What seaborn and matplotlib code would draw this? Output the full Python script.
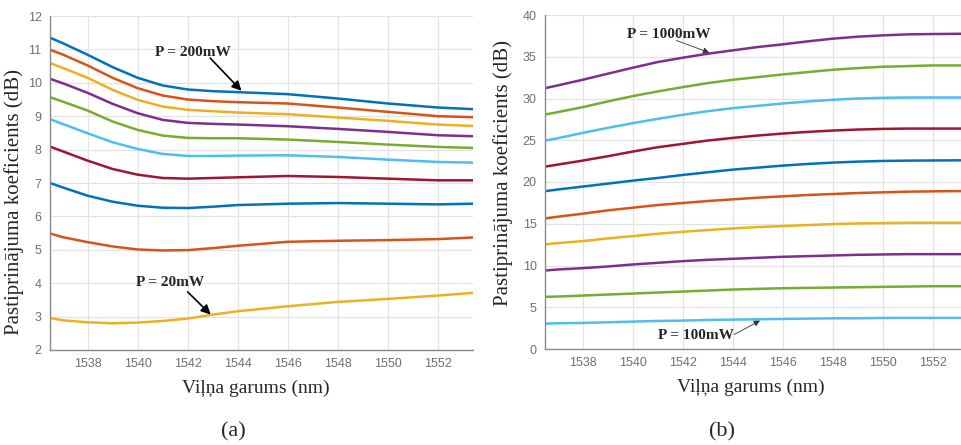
import numpy as np
import pandas as pd
import matplotlib
matplotlib.use("Agg")
import matplotlib.pyplot as plt
import seaborn as sns

# ---- (a) gain vs wavelength, pump power 20 ... 200 mW ----
wl_a = [1536.5, 1537, 1538, 1539, 1540, 1541, 1542, 1543, 1544, 1546, 1548, 1550, 1552, 1553.4]
gain_a_200 = [11.35, 11.19, 10.84, 10.47, 10.15, 9.92, 9.80, 9.75, 9.72, 9.66, 9.53, 9.38, 9.26, 9.21]
gain_a_180 = [10.99, 10.85, 10.52, 10.15, 9.84, 9.62, 9.50, 9.45, 9.42, 9.38, 9.26, 9.13, 9.00, 8.97]
gain_a_160 = [10.59, 10.45, 10.15, 9.79, 9.49, 9.29, 9.19, 9.15, 9.11, 9.06, 8.96, 8.86, 8.75, 8.71]
gain_a_140 = [10.12, 9.99, 9.70, 9.37, 9.09, 8.89, 8.80, 8.77, 8.75, 8.70, 8.62, 8.53, 8.43, 8.40]
gain_a_120 = [9.57, 9.44, 9.17, 8.84, 8.59, 8.42, 8.35, 8.34, 8.34, 8.30, 8.23, 8.15, 8.08, 8.05]
gain_a_100 = [8.91, 8.77, 8.49, 8.22, 8.02, 7.87, 7.81, 7.81, 7.82, 7.83, 7.78, 7.70, 7.63, 7.61]
gain_a_80 = [8.09, 7.95, 7.67, 7.42, 7.25, 7.15, 7.13, 7.15, 7.17, 7.21, 7.18, 7.13, 7.08, 7.08]
gain_a_60 = [7.00, 6.87, 6.62, 6.44, 6.32, 6.26, 6.25, 6.29, 6.34, 6.38, 6.40, 6.38, 6.36, 6.38]
gain_a_40 = [5.49, 5.38, 5.23, 5.10, 5.01, 4.98, 4.99, 5.05, 5.12, 5.24, 5.27, 5.29, 5.32, 5.37]
gain_a_20 = [2.96, 2.89, 2.83, 2.80, 2.82, 2.87, 2.94, 3.06, 3.16, 3.31, 3.44, 3.53, 3.63, 3.71]

# ---- (b) gain vs wavelength, pump power 100 ... 1000 mW ----
wl_b = [1536.5, 1537, 1538, 1539, 1540, 1541, 1542, 1543, 1544, 1545,
        1546, 1547, 1548, 1549, 1550, 1551, 1552, 1553.4]
gain_b_1000 = [31.24, 31.56, 32.24, 32.96, 33.68, 34.36, 34.88, 35.36, 35.76, 36.16,
               36.48, 36.84, 37.16, 37.40, 37.56, 37.68, 37.72, 37.76]
gain_b_900 = [28.08, 28.36, 28.96, 29.64, 30.28, 30.84, 31.36, 31.84, 32.24, 32.56,
              32.88, 33.16, 33.44, 33.64, 33.80, 33.88, 33.96, 33.96]
gain_b_800 = [24.96, 25.24, 25.88, 26.48, 27.04, 27.56, 28.04, 28.48, 28.84, 29.12,
              29.40, 29.64, 29.84, 30.00, 30.08, 30.12, 30.12, 30.12]
gain_b_700 = [21.84, 22.08, 22.56, 23.08, 23.64, 24.16, 24.56, 24.96, 25.28, 25.56,
              25.80, 26.00, 26.16, 26.28, 26.36, 26.40, 26.40, 26.40]
gain_b_600 = [18.90, 19.10, 19.45, 19.80, 20.16, 20.48, 20.84, 21.16, 21.48, 21.72,
              21.96, 22.16, 22.32, 22.44, 22.52, 22.56, 22.58, 22.60]
gain_b_500 = [15.64, 15.84, 16.20, 16.60, 16.92, 17.24, 17.48, 17.72, 17.92, 18.12,
              18.28, 18.44, 18.56, 18.68, 18.76, 18.84, 18.88, 18.92]
gain_b_400 = [12.52, 12.68, 12.92, 13.24, 13.52, 13.80, 14.04, 14.24, 14.44, 14.60,
              14.72, 14.84, 14.96, 15.04, 15.08, 15.12, 15.12, 15.12]
gain_b_300 = [9.40, 9.52, 9.68, 9.88, 10.12, 10.32, 10.52, 10.68, 10.80, 10.92,
              11.04, 11.12, 11.20, 11.28, 11.32, 11.36, 11.36, 11.36]
gain_b_200 = [6.24, 6.28, 6.40, 6.52, 6.64, 6.76, 6.88, 7.00, 7.12, 7.20,
              7.28, 7.32, 7.36, 7.40, 7.44, 7.48, 7.52, 7.52]
gain_b_100 = [3.04, 3.08, 3.12, 3.20, 3.28, 3.36, 3.40, 3.48, 3.52, 3.56,
              3.60, 3.64, 3.68, 3.68, 3.72, 3.72, 3.72, 3.72]

power_a = [200, 180, 160, 140, 120, 100, 80, 60, 40, 20]
series_a = [gain_a_200, gain_a_180, gain_a_160, gain_a_140, gain_a_120,
            gain_a_100, gain_a_80, gain_a_60, gain_a_40, gain_a_20]
power_b = [1000, 900, 800, 700, 600, 500, 400, 300, 200, 100]
series_b = [gain_b_1000, gain_b_900, gain_b_800, gain_b_700, gain_b_600,
            gain_b_500, gain_b_400, gain_b_300, gain_b_200, gain_b_100]

xticks = [1538, 1540, 1542, 1544, 1546, 1548, 1550, 1552]
yticks_a = list(range(2, 13))
yticks_b = list(range(0, 41, 5))

# MATLAB-style line colours
M_BLUE, M_ORANGE, M_YELLOW = "#0072BD", "#D95319", "#EDB120"
M_PURPLE, M_GREEN, M_CYAN, M_RED = "#7E2F8E", "#77AC30", "#4DBEEE", "#A2142F"
colors_a = [M_BLUE, M_ORANGE, M_YELLOW, M_PURPLE, M_GREEN, M_CYAN, M_RED, M_BLUE, M_ORANGE, M_YELLOW]
colors_b = [M_PURPLE, M_GREEN, M_CYAN, M_RED, M_BLUE, M_ORANGE, M_YELLOW, M_PURPLE, M_GREEN, M_CYAN]


def long_frame(wl, powers, series):
    rows = []
    for p, ys in zip(powers, series):
        for x, y in zip(wl, ys):
            rows.append({"wl": x, "gain": y, "power": f"{p} mW"})
    return pd.DataFrame(rows)


df_a = long_frame(wl_a, power_a, series_a)
df_b = long_frame(wl_b, power_b, series_b)
pal_a = {f"{p} mW": c for p, c in zip(power_a, colors_a)}
pal_b = {f"{p} mW": c for p, c in zip(power_b, colors_b)}

sns.set_style("whitegrid", {"grid.color": "#e3e3e3", "axes.edgecolor": "#8a8a8a"})
plt.rcParams["font.family"] = ["Liberation Serif", "DejaVu Serif"]

fig = plt.figure(figsize=(9.61, 4.45), dpi=100)
ax_a = fig.add_axes([50 / 961, 1 - 350 / 445, 423 / 961, 334 / 445])
ax_b = fig.add_axes([545 / 961, 1 - 349 / 445, 422.5 / 961, 334 / 445])

sns.lineplot(data=df_a, x="wl", y="gain", hue="power", palette=pal_a,
             estimator=None, legend=False, ax=ax_a, linewidth=1.8)
sns.lineplot(data=df_b, x="wl", y="gain", hue="power", palette=pal_b,
             estimator=None, legend=False, ax=ax_b, linewidth=1.8)

ylabel = "Pastiprinājuma koeficients (dB)"
xlabel = "Viļņa garums (nm)"

for ax, yt, ylim, ylab_xy in [(ax_a, yticks_a, (2, 12), (-0.061, 0.443)),
                              (ax_b, yticks_b, (0, 40), (-0.076, 0.527))]:
    ax.set_xlim(1536.5, 1553.4)
    ax.set_ylim(*ylim)
    ax.set_xticks(xticks)
    ax.set_yticks(yt)
    ax.grid(True, color="#e3e3e3", linewidth=0.9)
    for s in ("top", "right"):
        ax.spines[s].set_visible(False)
    for s in ("left", "bottom"):
        ax.spines[s].set_color("#8a8a8a")
        ax.spines[s].set_linewidth(1.0)
    ax.tick_params(axis="both", direction="in", length=3, color="#8a8a8a",
                   labelsize=9, labelcolor="#707070", pad=6)
    for lab in ax.get_xticklabels() + ax.get_yticklabels():
        lab.set_family(["Liberation Sans", "DejaVu Sans"])
    ax.set_xlabel(xlabel, fontsize=14)
    ax.set_ylabel(ylabel, fontsize=15)
    ax.xaxis.set_label_coords(0.487, -0.09)
    ax.yaxis.set_label_coords(*ylab_xy)

# panel captions
ax_a.text(0.433, -0.245, "(a)", transform=ax_a.transAxes, fontsize=16,
          ha="center", va="center")
ax_b.text(0.419, -0.248, "(b)", transform=ax_b.transAxes, fontsize=16,
          ha="center", va="center")

bold = dict(fontsize=11, fontweight="bold", ha="center", va="center")

# (a) annotations
ax_a.text(1542.2, 10.92, "P = 200mW", **bold)
ax_a.annotate("", xy=(1544.15, 9.76), xytext=(1542.9, 10.74),
              arrowprops=dict(arrowstyle="-|>", color="black", lw=1.2,
                              mutation_scale=14, shrinkA=0, shrinkB=0))
ax_a.text(1541.3, 4.01, "P = 20mW", **bold)
ax_a.annotate("", xy=(1542.92, 3.06), xytext=(1542.0, 3.74),
              arrowprops=dict(arrowstyle="-|>", color="black", lw=1.2,
                              mutation_scale=14, shrinkA=0, shrinkB=0))

# (b) annotations
ax_b.text(1541.45, 37.64, "P = 1000mW", **bold)
ax_b.annotate("", xy=(1543.07, 35.5), xytext=(1541.75, 36.95),
              arrowprops=dict(arrowstyle="-|>", color="#333333", lw=0.6,
                              mutation_scale=9, shrinkA=0, shrinkB=0))
ax_b.text(1542.53, 1.64, "P = 100mW", **bold)
ax_b.annotate("", xy=(1545.1, 3.4), xytext=(1544.06, 1.72),
              arrowprops=dict(arrowstyle="-|>", color="#333333", lw=0.6,
                              mutation_scale=9, shrinkA=0, shrinkB=0))

fig.savefig("out.png", dpi=100)
